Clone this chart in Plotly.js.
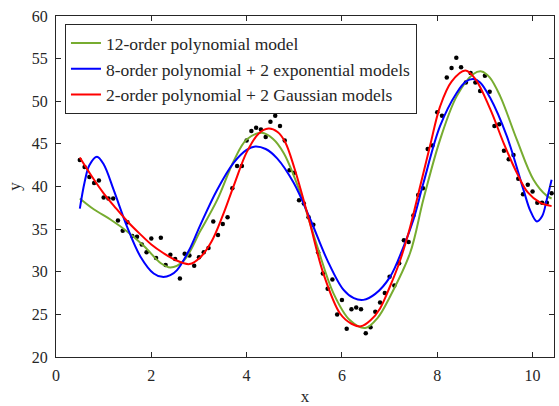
<!DOCTYPE html>
<html>
<head>
<meta charset="utf-8">
<script src="https://cdn.plot.ly/plotly-3.0.1.min.js"></script>
<style>html,body{margin:0;padding:0;background:#fff;}#chart{width:559px;height:406px;}</style>
</head>
<body>
<div id="chart"></div>
<script>
// Observed data
const dataX = [0.5,0.6,0.7,0.8,0.9,1.0,1.1,1.2,1.3,1.4,1.5,1.6,1.7,1.8,1.9,2.0,2.1,2.2,2.3,2.4,2.5,2.6,2.7,2.8,2.9,
  3.0,3.1,3.2,3.3,3.4,3.5,3.6,3.7,3.8,3.9,4.0,4.1,4.2,4.3,4.4,4.5,4.6,4.7,4.8,4.9,5.0,5.1,5.2,5.3,5.4,
  5.5,5.6,5.7,5.8,5.9,6.0,6.1,6.2,6.3,6.4,6.5,6.6,6.7,6.8,6.9,7.0,7.1,7.2,7.3,7.4,7.5,7.6,7.7,7.8,7.9,
  8.0,8.1,8.2,8.3,8.4,8.5,8.6,8.7,8.8,8.9,9.0,9.1,9.2,9.3,9.4,9.5,9.6,9.7,9.8,9.9,10.0,10.1,10.2,10.3,10.4];
const dataY = [43.1,42.3,41.1,40.4,40.7,38.7,38.6,38.6,36.0,34.8,35.8,34.2,34.1,33.2,32.3,33.9,31.6,34.0,30.8,32.0,31.5,29.2,32.1,31.9,30.7,
  31.7,32.3,32.8,35.9,34.3,35.6,36.4,39.8,42.4,42.4,45.4,46.5,46.9,46.7,45.8,47.6,48.3,47.1,45.4,41.9,41.6,38.4,38.0,36.4,35.5,
  32.3,29.8,28.0,29.1,25.0,26.7,23.3,25.6,25.8,25.6,22.8,23.5,25.3,26.4,27.5,29.4,28.4,31.0,33.7,33.5,36.6,39.0,39.8,44.4,44.8,
  48.7,48.3,52.8,53.9,55.1,54.0,52.2,53.3,52.2,51.2,53.0,51.1,47.1,47.3,44.2,43.2,43.7,40.9,39.1,40.2,39.4,38.1,38.1,38.1,39.2];

// 12-order polynomial model
const polyX = [0.5,0.8,1.15,1.5,1.85,2.2,2.4,2.68,3.03,3.38,3.73,4.0,4.32,4.55,4.78,5.13,5.48,5.82,6.17,6.49,6.75,7.01,7.43,7.71,8.06,8.41,8.76,8.93,9.1,9.32,9.67,10.02,10.3,10.4];
const polyY = [38.6,37.3,36.1,34.7,33.0,31.0,30.5,31.3,34.8,38.4,43.0,45.5,46.3,45.6,43.9,39.2,33.0,27.5,24.3,23.4,24.6,27.1,32.2,38.5,45.5,50.6,53.2,53.5,52.8,50.6,45.5,40.8,38.9,38.6];

// 8-order polynomial + 2 exponential models
const expX = [0.5,0.6,0.7,0.86,1.0,1.21,1.49,1.77,2.05,2.23,2.4,2.54,2.8,3.03,3.38,3.73,4.0,4.18,4.4,4.64,4.99,5.34,5.69,6.03,6.25,6.45,6.7,7.01,7.29,7.5,7.71,8.06,8.41,8.6,8.76,8.9,9.11,9.46,9.81,9.95,10.09,10.2,10.3,10.4];
const expY = [37.4,40.5,42.5,43.5,42.6,39.6,35.3,31.8,29.8,29.4,29.6,30.2,32.6,35.5,39.6,42.8,44.3,44.7,44.4,43.3,40.4,36.1,31.4,27.9,26.9,26.7,27.4,29.4,32.9,36.1,40.4,47.1,51.0,52.3,52.6,52.2,50.4,45.9,39.6,37.2,35.9,36.5,38.5,40.8];

// 2-order polynomial + 2 Gaussian models
const gaussX = [0.5,0.75,1.0,1.25,1.5,1.75,2.0,2.25,2.5,2.8,3.03,3.27,3.5,3.75,4.0,4.25,4.46,4.65,4.81,5.0,5.3,5.61,5.96,6.2,6.4,6.6,6.8,7.01,7.2,7.4,7.64,7.85,8.06,8.3,8.59,8.8,9.11,9.4,9.67,9.9,10.16,10.4];
const gaussY = [43.4,41.2,39.2,37.5,35.9,34.5,33.2,32.2,31.4,30.9,31.7,33.6,36.6,40.4,44.0,46.2,46.8,46.4,45.2,42.2,36.3,29.8,25.1,23.9,23.6,24.3,25.7,28.3,31.0,34.6,40.0,44.8,49.4,52.3,53.6,52.6,49.1,45.0,41.6,39.3,38.1,37.7];

const seriesNames = ['12-order polynomial model','8-order polynomial + 2 exponential models','2-order polynomial + 2 Gaussian models'];

const FONT = 'Liberation Serif';
const traces = [
  {x: dataX, y: dataY, mode: 'markers', type: 'scatter', showlegend: false,
   marker: {color: '#000', size: 4.5}},
  {x: polyX, y: polyY, mode: 'lines', type: 'scatter', name: seriesNames[0],
   line: {color: '#77AC30', width: 2, shape: 'spline', smoothing: 1}},
  {x: expX, y: expY, mode: 'lines', type: 'scatter', name: seriesNames[1],
   line: {color: '#0000FF', width: 2, shape: 'spline', smoothing: 1}},
  {x: gaussX, y: gaussY, mode: 'lines', type: 'scatter', name: seriesNames[2],
   line: {color: '#FF0000', width: 2, shape: 'spline', smoothing: 1}}
];

const axisCommon = {
  showline: true, linecolor: '#262626', linewidth: 1, mirror: 'ticks',
  ticks: 'inside', ticklen: 5, tickwidth: 1, tickcolor: '#262626',
  showgrid: false, zeroline: false,
  tickfont: {family: FONT, size: 16, color: '#262626'}
};

const layout = {
  width: 559, height: 406,
  margin: {l: 56, r: 5, t: 16, b: 49},
  paper_bgcolor: '#fff', plot_bgcolor: '#fff',
  font: {family: FONT, color: '#262626'},
  xaxis: Object.assign({}, axisCommon, {
    range: [0, 10.45], tickvals: [0,2,4,6,8,10], ticklabelstandoff: 4,
    title: {text: 'x', font: {family: FONT, size: 17, color: '#262626'}, standoff: 8}
  }),
  yaxis: Object.assign({}, axisCommon, {
    range: [20, 60], tickvals: [20,25,30,35,40,45,50,55,60], ticklabelstandoff: 4,
    title: {text: 'y', font: {family: FONT, size: 17, color: '#262626'}, standoff: 6}
  }),
  legend: {
    x: 0.018, y: 0.976, xanchor: 'left', yanchor: 'top',
    bgcolor: '#fff', bordercolor: '#262626', borderwidth: 1,
    font: {family: FONT, size: 17.5, color: '#262626'},
    tracegroupgap: 0
  },
  showlegend: true
};

Plotly.newPlot('chart', traces, layout, {staticPlot: true, displayModeBar: false});
</script>
</body>
</html>
